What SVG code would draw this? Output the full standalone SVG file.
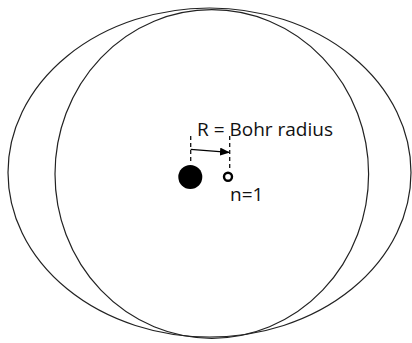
<svg xmlns="http://www.w3.org/2000/svg" width="412" height="343" viewBox="0 0 412 343">
<defs>
<style>
.orbit{fill:none;stroke:#222;stroke-width:1.2}
.dash{stroke:#111;stroke-width:1.3;stroke-dasharray:4,3;fill:none}
.lbl{font-family:"Open Sans","DejaVu Sans",sans-serif;fill:#111;font-size:19px}
</style>
<marker id="ah" markerWidth="10" markerHeight="8" refX="9" refY="4" orient="auto" markerUnits="userSpaceOnUse">
<path d="M0,0 L10,4 L0,8 Z" fill="#000"/>
</marker>
</defs>
<rect width="412" height="343" fill="#fff"/>
<g id="outer-orbit"><ellipse class="orbit" cx="209.5" cy="172.5" rx="201.5" ry="164.5"/></g>
<g id="inner-orbit"><ellipse class="orbit" cx="211.8" cy="174" rx="156.8" ry="164.3"/></g>
<g id="nucleus"><circle cx="190.3" cy="177" r="12" fill="#000"/></g>
<g id="electron"><circle cx="228" cy="176.7" r="4" fill="#fff" stroke="#000" stroke-width="2.4"/>
<text class="lbl" x="230" y="201">n=1</text></g>
<g id="connectors">
<line class="dash" x1="190.7" y1="136" x2="190.7" y2="164"/>
<line class="dash" x1="229.7" y1="136" x2="229.7" y2="169"/>
<line x1="190.7" y1="149.3" x2="229" y2="152.3" stroke="#000" stroke-width="1.3" marker-end="url(#ah)"/>
</g>
<g id="label"><text class="lbl" x="197" y="135.7">R = Bohr radius</text></g>
</svg>
